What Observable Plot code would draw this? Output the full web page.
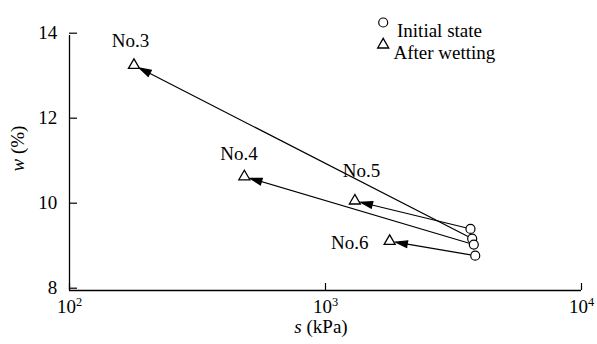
<!DOCTYPE html>
<html>
<head>
<meta charset="utf-8">
<script src="https://cdn.jsdelivr.net/npm/d3@7"></script>
<script src="https://cdn.jsdelivr.net/npm/@observablehq/plot@0.6"></script>
<style>
  html, body { margin: 0; padding: 0; background: white; }
  #chart { width: 597px; height: 344px; }
  #chart svg, #chart svg text { font-family: "Liberation Serif", "Times New Roman", serif !important; }
</style>
</head>
<body>
<div id="chart"></div>
<script>
// ---- data ----
const sampleNames = ["No.3", "No.4", "No.5", "No.6"];
const sInitial = [3741, 3796, 3684, 3845];     // kPa, initial state
const wInitial = [9.22, 9.08, 9.45, 8.82];     // %, initial state
const sWetted  = [178.6, 482, 1302, 1781];     // kPa, after wetting
const wWetted  = [13.30, 10.68, 10.11, 9.16];  // %, after wetting
const xTicks = [100, 1000, 10000];
const xExponents = ["2", "3", "4"];
const yTicks = [8, 10, 12, 14];
const legendLabels = ["Initial state", "After wetting"];
const xTitle = ["s", " (kPa)"];
const yTitle = ["w", " (%)"];

const rows = sampleNames.map((name, i) => ({
  name, s0: sInitial[i], w0: wInitial[i], s1: sWetted[i], w1: wWetted[i]
}));

const font = "Liberation Serif";
const fs = 19;
const labelOffsets = { "No.3": [-3.5, -24], "No.4": [-5.3, -23], "No.5": [6.7, -30], "No.6": [-40, 2] };

const labelMarks = sampleNames.map(n => Plot.text(rows.filter(d => d.name === n), {
  x: "s1", y: "w1", text: "name", dx: labelOffsets[n][0], dy: labelOffsets[n][1],
  fill: "black", fontFamily: font, fontSize: fs
}));

const plot = Plot.plot({
  width: 597,
  height: 344,
  marginLeft: 69,
  marginRight: 16,
  marginTop: 35,
  marginBottom: 54,
  style: { fontFamily: font, fontSize: fs + "px", background: "white", color: "black", overflow: "visible" },
  x: { type: "log", domain: [xTicks[0], xTicks[xTicks.length - 1]] },
  y: { domain: [yTicks[0], yTicks[yTicks.length - 1]] },
  marks: [
    Plot.axisX({ ticks: xTicks, tickSize: -7, tickPadding: 15.5, tickFormat: () => "10", label: null,
      strokeWidth: 1.2, fontFamily: font, fontSize: fs, fontVariant: "normal" }),
    Plot.axisY({ ticks: yTicks, tickSize: -8, tickPadding: 20.3, dy: -2.3, tickFormat: d => String(d), label: null,
      strokeWidth: 1.2, fontFamily: font, fontSize: fs, fontVariant: "normal" }),
    Plot.ruleX([xTicks[0]], { stroke: "black", strokeWidth: 1.3 }),
    Plot.ruleY([yTicks[0]], { stroke: "black", strokeWidth: 1.3 }),
    Plot.arrow(rows, {
      x1: "s0", y1: "w0", x2: "s1", y2: "w1",
      insetStart: 4.7, insetEnd: 6,
      headAngle: 32, headLength: 16,
      stroke: "black", fill: "black", strokeWidth: 1.2,
      strokeLinecap: "butt", strokeLinejoin: "miter", strokeMiterlimit: 6
    }),
    Plot.dot(rows, { x: "s0", y: "w0", r: 4.5, symbol: "circle", stroke: "black", fill: "white", strokeWidth: 1.2 }),
    Plot.dot(rows, { x: "s1", y: "w1", r: 4.1, symbol: "triangle", stroke: "black", fill: "white", strokeWidth: 1.3 }),
    ...labelMarks,
    // legend
    Plot.dot([legendLabels[0]], { frameAnchor: "top-left", dx: 313.7, dy: -13, r: 4.5, symbol: "circle", stroke: "black", fill: "white", strokeWidth: 1.2 }),
    Plot.dot([legendLabels[1]], { frameAnchor: "top-left", dx: 313.7, dy: 9.3, r: 4.1, symbol: "triangle", stroke: "black", fill: "white", strokeWidth: 1.3 }),
    Plot.text([legendLabels[0]], { frameAnchor: "top-left", dx: 327.5, dy: -12.5, text: d => d, textAnchor: "start", fill: "black", fontFamily: font, fontSize: fs }),
    Plot.text([legendLabels[1]], { frameAnchor: "top-left", dx: 324, dy: 9.5, text: d => d, textAnchor: "start", fill: "black", fontFamily: font, fontSize: fs }),
    // axis titles
    Plot.text([xTitle.join("")], { frameAnchor: "bottom", dx: -4.5, dy: 42.5, text: d => d, fill: "black", fontFamily: font, fontSize: fs }),
    Plot.text([yTitle.join("")], { frameAnchor: "left", dx: -51.6, dy: 8.5, rotate: -90, text: d => d, fill: "black", fontFamily: font, fontSize: fs })
  ]
});

document.getElementById("chart").appendChild(plot);

// superscript exponents for the log axis labels
d3.select(plot).selectAll('[aria-label="x-axis tick label"] text').each(function(d, i) {
  const t = d3.select(this);
  t.text("10");
  t.append("tspan").attr("dy", "-0.5em").attr("font-size", "0.65em").text(xExponents[i]);
});

// italic variable names in the axis titles
d3.select(plot).selectAll("text").each(function() {
  const t = d3.select(this);
  const txt = this.textContent;
  for (const parts of [xTitle, yTitle]) {
    if (txt === parts.join("")) {
      t.text(null);
      t.append("tspan").attr("font-style", "italic").text(parts[0]);
      t.append("tspan").text(parts[1]);
    }
  }
});
</script>
</body>
</html>
